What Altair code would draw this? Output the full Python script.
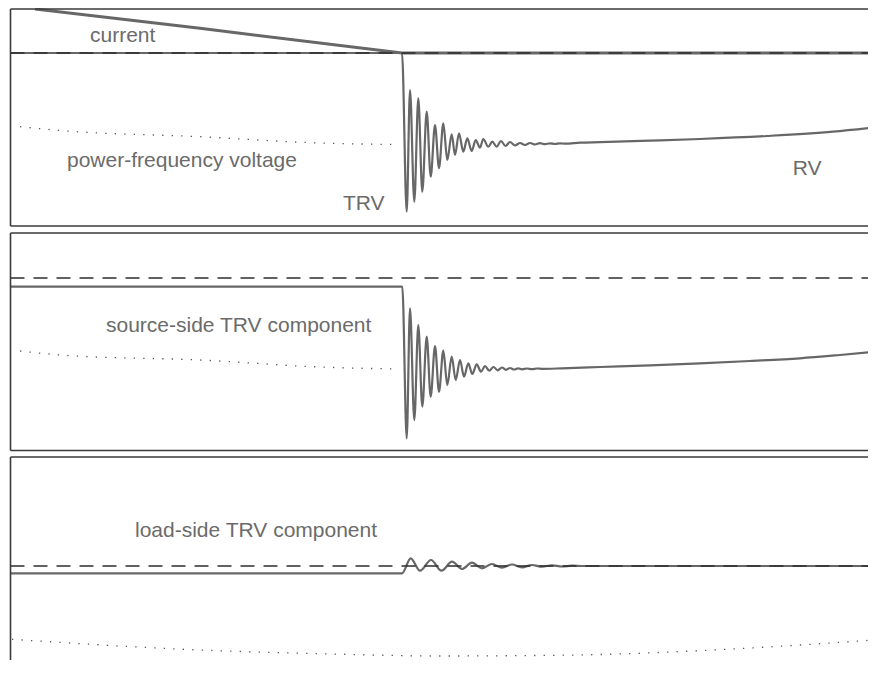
import altair as alt
import pandas as pd

# ---------------- data ----------------
# time in arbitrary units (0 = current zero); signal values in arbitrary units (0 = dashed zero line of each panel)

# Panel 1: current
t_current = [-36.7, -20.2, 0.0, 47.4]
i_current = [4.4, 2.47, 0.0, 0.0]

# Panel 1: power-frequency voltage (dotted, before current zero)
t_pf1 = [-38.2, -33.5, -20.2, -8.2, -0.5]
v_pf1 = [-7.37, -7.8, -8.37, -9.0, -9.15]

# Panel 1: voltage across the breaker (zero, then TRV, then RV)
t_trv1 = [-39.15, 0.0, 0.47, 0.8, 1.23, 1.63, 2.03, 2.47, 2.87, 3.3, 3.7, 4.13, 4.53,
          4.97, 5.3, 5.7, 6.13, 6.53, 6.97, 7.37, 7.8, 8.13, 8.63, 9.03, 9.47, 9.9,
          10.35, 10.8, 11.3, 11.8, 12.3, 12.8, 13.3, 13.8, 14.3, 14.8, 15.3, 15.8, 16.3,
          17.8, 19.8, 24.8, 29.8, 36.5, 43.1, 47.4]
v_trv1 = [0.0, 0.0, -15.87, -3.7, -14.87, -4.53, -13.87, -5.87, -12.37, -7.2, -11.53,
          -7.03, -10.7, -8.13, -10.2, -8.03, -9.87, -8.53, -9.8, -8.7, -9.47, -8.6,
          -9.37, -8.87, -9.37, -8.8, -9.3, -8.9, -9.25, -9.0, -9.2, -9.0, -9.15,
          -9.02, -9.12, -9.03, -9.1, -9.03, -9.07, -8.97, -8.92, -8.77, -8.6, -8.3,
          -7.87, -7.43]

# Panel 2: power-frequency voltage (dotted)
t_pf2 = [-38.2, -33.5, -20.2, -8.2, -0.7]
v_pf2 = [-7.3, -7.75, -8.2, -8.9, -9.1]

# Panel 2: source-side TRV component
t_trv2 = [-39.15, 0.03, 0.47, 0.8, 1.23, 1.63, 2.03, 2.47, 2.87, 3.3, 3.7, 4.13, 4.53,
          4.97, 5.37, 5.8, 6.2, 6.63, 7.03, 7.47, 7.9, 8.3, 8.73, 9.15, 9.57, 10.0,
          10.4, 10.8, 11.2, 11.6, 12.0, 12.5, 13.0, 13.5, 14.0, 16.0, 19.8, 24.8, 29.8,
          34.8, 39.8, 43.8, 47.4]
v_trv2 = [-0.87, -0.87, -16.03, -3.03, -14.2, -4.7, -12.87, -5.87, -11.87, -6.8,
          -11.37, -7.27, -10.7, -7.87, -10.2, -8.2, -9.87, -8.53, -9.6, -8.63, -9.37,
          -8.8, -9.27, -8.9, -9.23, -8.95, -9.18, -9.0, -9.15, -9.03, -9.13, -9.05,
          -9.11, -9.05, -9.08, -9.03, -8.9, -8.73, -8.53, -8.3, -8.03, -7.7, -7.37]

# Panel 3: power-frequency voltage (dotted, whole window)
t_pf3 = [-39.0, -20.2, -6.9, 3.8, 17.4, 32.4, 47.2]
v_pf3 = [-7.33, -8.4, -8.8, -9.0, -8.9, -8.33, -7.4]

# Panel 3: load-side TRV component
t_load = [-39.15, 0.0, 0.87, 1.8, 2.9, 3.95, 5.0, 6.0, 7.0, 8.0, 9.0, 10.0, 11.0, 12.0,
          13.0, 14.0, 15.0, 16.0, 17.0, 18.0, 47.4]
v_load = [-0.73, -0.73, 0.77, -0.47, 0.6, -0.47, 0.43, -0.3, 0.33, -0.23, 0.2, -0.17,
          0.15, -0.13, 0.1, -0.07, 0.07, -0.05, 0.03, 0.0, 0.0]

# Labels (panel, text, t, v)
label_panel = [1, 1, 1, 1, 2, 3]
label_text = ["current", "power-frequency voltage", "TRV", "RV",
              "source-side TRV component", "load-side TRV component"]
label_t = [-31.2, -33.5, -5.9, 39.07, -29.6, -26.7]
label_v = [1.15, -11.37, -15.7, -12.2, -5.43, 2.87]

# ---------------- layout / styling ----------------
CURVE = "#676767"
DASH = "#2e2e2e"
DOT = "#555555"
BORDER = "#3a3a3a"
TEXT = "#6b6b6b"
FONT = "Liberation Sans"

W, H = 860, 652
X_DOMAIN = [-39.4, 46.6]
Y_DOMAIN = [-65.2, 0.0]
OFFSET = {1: -4.5, 2: -27.0, 3: -55.8}        # zero line of each stacked panel
LEFT = -39.15                                  # left frame edge
FRAME_TOP = {1: -0.1, 2: -22.5, 3: -44.9}
FRAME_BOTTOM = {1: -21.8, 2: -44.25, 3: -65.2}

xs = alt.Scale(domain=X_DOMAIN, nice=False, zero=False)
ys = alt.Scale(domain=Y_DOMAIN, nice=False, zero=False)
X = alt.X("t:Q", scale=xs, axis=None)
Y = alt.Y("g:Q", scale=ys, axis=None)


def series(parts):
    frames = []
    for name, panel, t, v in parts:
        d = pd.DataFrame({"t": t, "v": v})
        d["g"] = d["v"] + OFFSET[panel]
        d["s"] = name
        frames.append(d)
    return pd.concat(frames, ignore_index=True)


dotted_df = series([("pf1", 1, t_pf1, v_pf1), ("pf2", 2, t_pf2, v_pf2), ("pf3", 3, t_pf3, v_pf3)])
curve_df = series([("trv1", 1, t_trv1, v_trv1), ("trv2", 2, t_trv2, v_trv2), ("load", 3, t_load, v_load)])
current_df = series([("i", 1, t_current, i_current)])

zero_df = pd.DataFrame({"g": [OFFSET[p] for p in (1, 2, 3)], "t": LEFT, "t2": X_DOMAIN[1]})

lab = pd.DataFrame({"p": label_panel, "text": label_text, "t": label_t, "v": label_v})
lab["g"] = lab["v"] + lab["p"].map(OFFSET)

hframes = pd.DataFrame({
    "g": [FRAME_TOP[1], FRAME_BOTTOM[1], FRAME_TOP[2], FRAME_BOTTOM[2], FRAME_TOP[3]],
    "t": LEFT, "t2": X_DOMAIN[1]})
vframes = pd.DataFrame({"t": [LEFT] * 3,
                        "g": [FRAME_TOP[p] for p in (1, 2, 3)],
                        "g2": [FRAME_BOTTOM[p] for p in (1, 2, 3)]})

dotted = alt.Chart(dotted_df).mark_line(
    color=DOT, strokeWidth=1.3, strokeDash=[1.3, 8.2], interpolate="monotone", clip=True
).encode(x=X, y=Y, detail="s:N")

curves = alt.Chart(curve_df).mark_line(
    color=CURVE, strokeWidth=2.2, interpolate="monotone", clip=True
).encode(x=X, y=Y, detail="s:N")

current = alt.Chart(current_df).mark_line(
    color=CURVE, strokeWidth=3.0, interpolate="linear", clip=True
).encode(x=X, y=Y)

zeros = alt.Chart(zero_df).mark_rule(
    color=DASH, strokeWidth=1.5, strokeDash=[14, 9]
).encode(x=X, x2="t2:Q", y=Y)

labels = alt.Chart(lab).mark_text(
    align="left", baseline="alphabetic", font=FONT, fontSize=21, color=TEXT
).encode(x=X, y=Y, text="text:N")

hrules = alt.Chart(hframes).mark_rule(color=BORDER, strokeWidth=1.6).encode(x=X, x2="t2:Q", y=Y)
vrules = alt.Chart(vframes).mark_rule(color=BORDER, strokeWidth=1.6).encode(x=X, y=Y, y2="g2:Q")

chart = alt.layer(dotted, curves, current, zeros, labels, hrules, vrules).properties(
    width=W, height=H,
    autosize=alt.AutoSizeParams(type="none"),
    padding=0,
).configure_view(stroke=None)

chart.save("out.html", embed_options={"renderer": "svg", "actions": False})
